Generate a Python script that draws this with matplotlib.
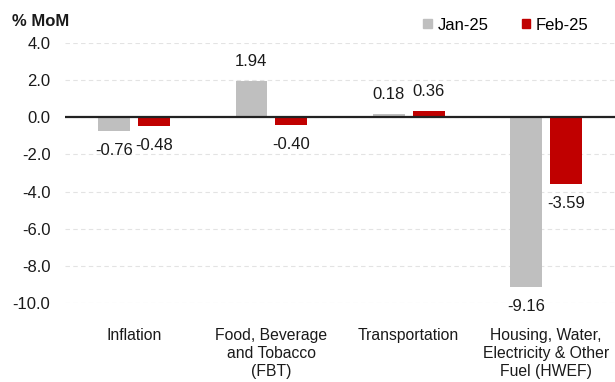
import matplotlib
matplotlib.use("Agg")
import matplotlib.pyplot as plt
import numpy as np
from matplotlib.patches import Rectangle

plt.rcParams['font.family'] = ['Liberation Sans', 'DejaVu Sans']

categories = ["Inflation", "Food, Beverage\nand Tobacco\n(FBT)", "Transportation",
              "Housing, Water,\nElectricity & Other\nFuel (HWEF)"]
series_names = ["Jan-25", "Feb-25"]
jan_values = [-0.76, 1.94, 0.18, -9.16]
feb_values = [-0.48, -0.40, 0.36, -3.59]
yticks = [4.0, 2.0, 0.0, -2.0, -4.0, -6.0, -8.0, -10.0]

colors = ["#bfbfbf", "#c00000"]

fig = plt.figure(figsize=(6.15, 3.82), dpi=100)
ax = fig.add_axes([65/615, 1 - 303/382, 1 - 65/615, (303 - 43)/382])

x = np.arange(len(categories))
w = 0.23
off = 0.145
for vals, c, dx, name in [(jan_values, colors[0], -off, series_names[0]),
                          (feb_values, colors[1], off, series_names[1])]:
    ax.bar(x + dx, vals, width=w, color=c, label=name, zorder=3)
    for xi, v in zip(x + dx, vals):
        dy = 14 if v >= 0 else -14
        ax.annotate(f"{v:.2f}", (xi, v), xytext=(0, dy), textcoords="offset points",
                    ha="center", va="center", fontsize=12, color="#1a1a1a")

ax.set_xlim(-0.5, len(categories) - 0.5)
ax.set_ylim(-10, 4)
ax.set_yticks(yticks)
ax.set_yticklabels([f"{t:.1f}" for t in yticks], fontsize=12, color="#1a1a1a")
ax.set_xticks(x)
ax.set_xticklabels(categories, fontsize=11.3, color="#1a1a1a", linespacing=1.25, va="top")
ax.tick_params(axis="both", length=0)
ax.tick_params(axis="x", pad=18)
ax.tick_params(axis="y", pad=10.5)
for s in ax.spines.values():
    s.set_visible(False)
ax.yaxis.grid(True, linestyle=(0, (4, 3)), color="#e3e3e3", linewidth=0.8, zorder=0)
ax.axhline(0, color="#222222", linewidth=1.6, zorder=4)

handles = [Rectangle((0, 0), 1, 1, color=c) for c in colors]
fig.legend(handles, series_names, loc="center", bbox_to_anchor=(506/615, 1 - 25/382),
           ncol=2, frameon=False, fontsize=12, handlelength=0.5, handleheight=0.5,
           handletextpad=0.35, columnspacing=2.0)

fig.text(12/615, 1 - 22/382, "% MoM", fontsize=12, fontweight="bold", ha="left", va="center",
         color="#1a1a1a")

fig.savefig("out.png", dpi=100)
